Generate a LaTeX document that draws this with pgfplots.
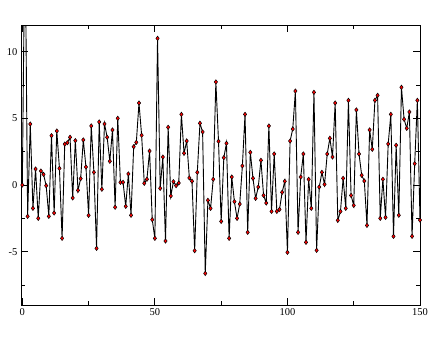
\documentclass[border=0pt]{standalone}
\usepackage{fontspec}
\setmainfont{Liberation Serif}
\usepackage{pgfplots}
\pgfplotsset{compat=1.18}
\pgfplotstableread{
x y
0 0
1 20
2 -2.35
3 4.57
4 -1.75
5 1.2
6 -2.5
7 1.05
8 0.8
9 -0.05
10 -2.35
11 3.7
12 -2.1
13 4.05
14 1.25
15 -4.0
16 3.07
17 3.17
18 3.58
19 -0.97
20 3.33
21 -0.4
22 0.48
23 3.38
24 1.35
25 -2.28
26 4.43
27 0.95
28 -4.75
29 4.73
30 -0.32
31 4.58
32 3.58
33 1.78
34 4.13
35 -1.67
36 5.0
37 0.2
38 0.2
39 -1.6
40 0.83
41 -2.27
42 2.87
43 3.2
44 6.15
45 3.73
46 0.13
47 0.43
48 2.55
49 -2.6
50 -4.0
51 11.0
52 -0.25
53 2.1
54 -4.2
55 4.33
56 -0.82
57 0.25
58 -0.05
59 0.15
60 5.3
61 2.38
62 3.3
63 0.53
64 0.28
65 -4.93
66 0.95
67 4.63
68 3.98
69 -6.63
70 -1.15
71 -1.75
72 0.43
73 7.73
74 3.28
75 -2.73
76 2.05
77 3.13
78 -4.0
79 0.6
80 -1.25
81 -2.5
82 -1.43
83 1.43
84 5.3
85 -3.55
86 2.45
87 0.5
88 -1.0
89 -0.15
90 1.85
91 -0.78
92 -1.35
93 4.43
94 -1.98
95 2.33
96 -1.98
97 -1.83
98 -0.55
99 0.28
100 -5.05
101 3.3
102 4.2
103 7.05
104 -3.55
105 0.6
106 2.33
107 -4.3
108 0.43
109 -1.75
110 6.95
111 -4.9
112 -0.15
113 0.95
114 0.05
115 2.33
116 3.5
117 2.1
118 6.15
119 -2.65
120 -1.98
121 0.5
122 -1.75
123 6.35
124 -0.78
125 -1.53
126 5.63
127 2.33
128 0.73
129 0.3
130 -3.03
131 4.13
132 2.68
133 6.35
134 6.73
135 -2.5
136 0.43
137 -2.43
138 3.08
139 5.3
140 -3.85
141 2.98
142 -2.27
143 7.33
144 4.93
145 4.25
146 5.48
147 -3.85
148 1.6
149 6.35
150 -2.63
}\datatable
\begin{document}
\begin{tikzpicture}
\begin{axis}[
  name=ax, at={(0,0)}, anchor=south west,
  scale only axis, width=399pt, height=280pt,
  xmin=-0.5, xmax=150, ymin=-9, ymax=12,
  xtick={0,50,100,150}, minor xtick={25,75,125},
  ytick={-5,0,5,10}, minor ytick={-7.5,-2.5,2.5,7.5},
  tick align=inside, xtick pos=both, ytick pos=both,
  major tick length=7pt, minor tick length=4pt,
  tick style={black, line width=0.8pt},
  axis line style={line width=1pt},
  ticklabel style={font=\fontsize{10.5}{12}\selectfont},
  /pgf/number format/assume math mode=true,
]
\addplot[black, line width=0.9pt, mark=diamond*, mark size=2.2pt,
  mark options={fill=red, draw=black, line width=0.5pt, solid}] table[x=x,y=y] {\datatable};
\end{axis}
\pgfresetboundingbox
\path[use as bounding box] ([shift={(-21pt,-33pt)}]ax.south west) rectangle ([shift={(26pt,25pt)}]ax.north east);
\end{tikzpicture}
\end{document}
